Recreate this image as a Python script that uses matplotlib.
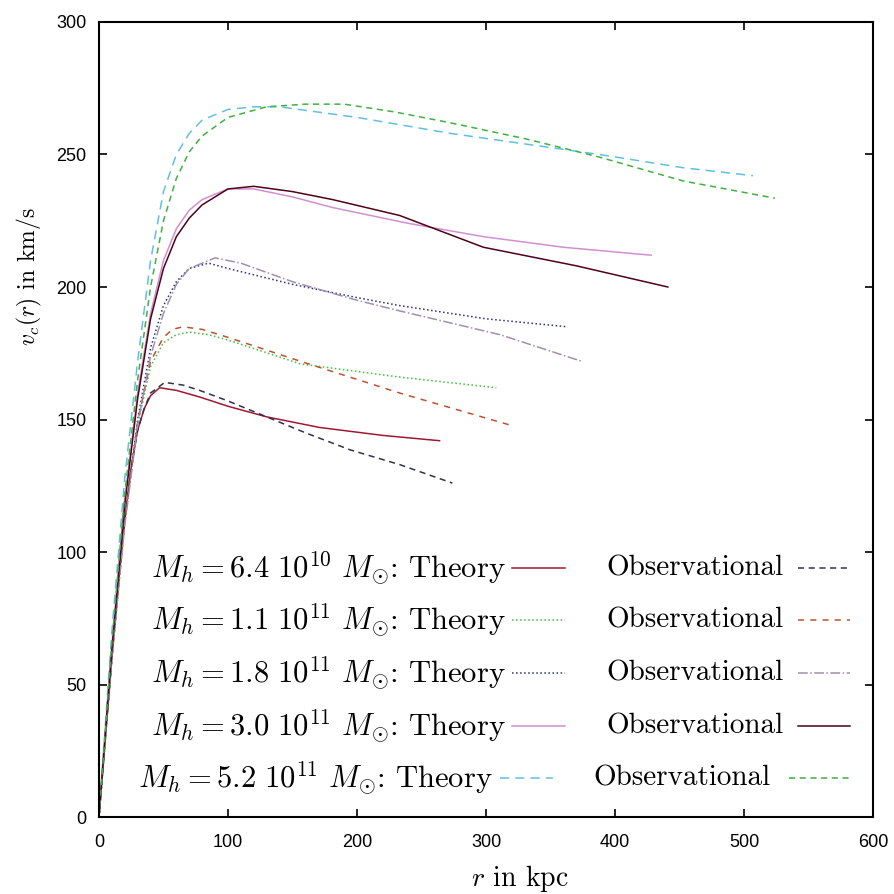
import numpy as np
import matplotlib
matplotlib.use("Agg")
import matplotlib.pyplot as plt

plt.rcParams['mathtext.fontset'] = 'cm'

# Halo masses (labels) and curve data: r in kpc, v_c in km/s
mass_labels = [r'$M_h = 6.4\ 10^{10}\ M_{\odot}$: Theory',
               r'$M_h = 1.1\ 10^{11}\ M_{\odot}$: Theory',
               r'$M_h = 1.8\ 10^{11}\ M_{\odot}$: Theory',
               r'$M_h = 3.0\ 10^{11}\ M_{\odot}$: Theory',
               r'$M_h = 5.2\ 10^{11}\ M_{\odot}$: Theory']

r_th1 = [0, 5, 10, 15, 20, 25, 30, 35, 40, 47, 60, 78, 100, 130, 171, 220, 264]
v_th1 = [0, 30, 60, 88, 112, 132, 146, 154, 159, 162, 161, 158.5, 155, 151, 147, 144, 142]
r_ob1 = [0, 5, 10, 15, 20, 25, 30, 35, 40, 51, 65, 78, 100, 130, 160, 195, 233, 274]
v_ob1 = [0, 30, 60, 88, 112, 132, 146, 154, 160, 164, 163, 161, 157, 151, 145, 138.5, 133, 126]

r_th2 = [0, 5, 10, 20, 30, 40, 50, 60, 70, 85, 100, 156, 233, 308]
v_th2 = [0, 30, 60, 112, 148, 170, 179, 182, 183, 182, 180, 171, 166, 162]
r_ob2 = [0, 5, 10, 20, 30, 40, 50, 57, 65, 80, 100, 156, 233, 318]
v_ob2 = [0, 30, 60, 112, 149, 172, 181, 184, 185, 184, 181, 172, 160, 148]

r_th3 = [0, 5, 10, 20, 30, 40, 50, 60, 70, 85, 100, 150, 200, 233, 300, 363]
v_th3 = [0, 30, 60, 112, 150, 177, 193, 202, 207, 209, 207, 201, 196, 193, 188, 185]
r_ob3 = [0, 5, 10, 20, 30, 40, 50, 60, 70, 90, 110, 150, 200, 233, 311, 374]
v_ob3 = [0, 30, 60, 110, 148, 174, 190, 201, 207, 211, 209, 202, 195, 191, 182, 172]

r_th4 = [0, 5, 10, 20, 30, 40, 50, 60, 70, 80, 100, 120, 150, 181, 240, 298, 360, 428]
v_th4 = [0, 33, 65, 120, 160, 190, 210, 222, 229, 233, 237, 237, 234, 230, 224, 219, 215, 212]
r_ob4 = [0, 5, 10, 20, 30, 40, 50, 60, 70, 80, 100, 120, 150, 181, 233, 298, 370, 441]
v_ob4 = [0, 32, 63, 118, 158, 188, 207, 219, 226, 231, 237, 238, 236, 233, 227, 215, 208, 200]

r_th5 = [0, 5, 10, 20, 30, 40, 50, 60, 70, 80, 100, 120, 140, 170, 200, 272, 330, 388, 453, 507]
v_th5 = [0, 35, 70, 128, 172, 210, 236, 250, 258, 263, 267, 268, 268, 266, 264, 258, 254, 250, 245, 242]
r_ob5 = [0, 5, 10, 20, 30, 40, 50, 60, 70, 80, 100, 130, 160, 190, 230, 272, 330, 388, 453, 524]
v_ob5 = [0, 33, 66, 122, 165, 200, 225, 241, 251, 257, 264, 268, 269, 269, 266, 262, 256, 249, 240, 233.5]

theory = [(r_th1, v_th1), (r_th2, v_th2), (r_th3, v_th3), (r_th4, v_th4), (r_th5, v_th5)]
observ = [(r_ob1, v_ob1), (r_ob2, v_ob2), (r_ob3, v_ob3), (r_ob4, v_ob4), (r_ob5, v_ob5)]

th_styles = [('#a01830', '-'), ('#40c040', ':'), ('#303080', ':'), ('#d090d0', '-'), ('#60c0e0', (0, (6, 4)))]
ob_styles = [('#303050', (0, (4, 3))), ('#c05030', (0, (4, 4))), ('#a090b0', '-.'), ('#500018', '-'), ('#40b040', (0, (4, 3)))]

fig = plt.figure(figsize=(8.94, 8.94), dpi=100)
ax = fig.add_axes([0.1107, 0.0861, 0.8658, 0.8893])

for (r, v), (c, ls) in zip(theory, th_styles):
    ax.plot(r, v, color=c, ls=ls, lw=1.1)
for (r, v), (c, ls) in zip(observ, ob_styles):
    ax.plot(r, v, color=c, ls=ls, lw=1.1)

ax.set_xlim(0, 600)
ax.set_ylim(0, 300)
ax.set_xticks(np.arange(0, 601, 100))
ax.set_yticks(np.arange(0, 301, 50))
ax.tick_params(direction='in', length=6, width=1.2, top=True, right=True, labelsize=13)
ax.tick_params(axis='x', pad=12)
ax.tick_params(axis='y', pad=9)
for lab in ax.get_xticklabels() + ax.get_yticklabels():
    lab.set_family(['Liberation Sans', 'DejaVu Sans'])
for s in ax.spines.values():
    s.set_linewidth(1.5)

ax.text(0.544, -0.077, '$r$ in kpc', transform=ax.transAxes, ha='center', va='center',
        family='cmr10', fontsize=20)
ax.text(-0.090, 0.68, '$v_c(r)$ in km/s', transform=ax.transAxes, ha='center', va='center',
        rotation=90, family='cmr10', fontsize=17)

# key, gnuplot style: text then sample line
row_y = [0.313, 0.248, 0.181, 0.114, 0.049]
for i, y in enumerate(row_y):
    dx = -0.016 if i == 4 else 0.0
    ax.text(0.525 + dx, y, mass_labels[i], transform=ax.transAxes, ha='right', va='center',
            family='cmr10', fontsize=22)
    c, ls = th_styles[i]
    ax.plot([0.534 + dx, 0.602 + dx], [y, y], transform=ax.transAxes, color=c, ls=ls, lw=1.1)
    ax.text(0.884 + dx, y, 'Observational', transform=ax.transAxes, ha='right', va='center',
            family='cmr10', fontsize=21)
    c, ls = ob_styles[i]
    ax.plot([0.903 + dx * 0.7, 0.970], [y, y], transform=ax.transAxes, color=c, ls=ls, lw=1.1)

fig.savefig('out.png', dpi=100)
